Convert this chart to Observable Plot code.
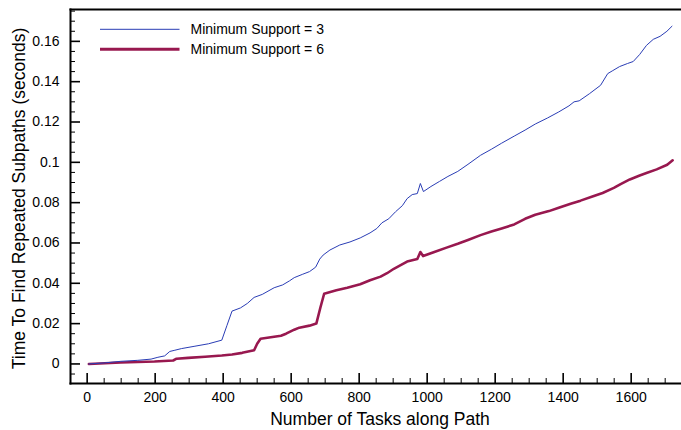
<!DOCTYPE html>
<html>
<head>
<meta charset="utf-8">
<script src="https://cdn.jsdelivr.net/npm/d3@7"></script>
<script src="https://cdn.jsdelivr.net/npm/@observablehq/plot@0.6"></script>
<style>
  html, body { margin: 0; padding: 0; background: #fff; }
  #chart { width: 681px; height: 430px; }
</style>
</head>
<body>
<div id="chart"></div>
<script>
// ---- data ----
const seriesNames = ["Minimum Support = 3", "Minimum Support = 6"];

const tasks3 = [5, 50, 99, 149, 188, 208, 228, 243, 258, 277, 317, 357, 396, 411, 426, 451, 471, 491, 515, 550, 575, 595, 609, 634, 654, 672, 684, 694, 714, 743, 773, 803, 832, 852, 867, 887, 907, 927, 941, 956, 971, 980, 989, 1011, 1036, 1061, 1090, 1120, 1157, 1189, 1219, 1256, 1288, 1318, 1354, 1387, 1417, 1432, 1447, 1477, 1510, 1531, 1546, 1566, 1589, 1606, 1625, 1645, 1665, 1685, 1705, 1720];
const time3 = [0, 0.0005, 0.0013, 0.0018, 0.0024, 0.0033, 0.0040, 0.0062, 0.0068, 0.0076, 0.0088, 0.0100, 0.0118, 0.0190, 0.0262, 0.0278, 0.0300, 0.0330, 0.0345, 0.0378, 0.0392, 0.0412, 0.0428, 0.0445, 0.0458, 0.0480, 0.0520, 0.0540, 0.0565, 0.0590, 0.0605, 0.0625, 0.0650, 0.0672, 0.0700, 0.0720, 0.0755, 0.0785, 0.0820, 0.0840, 0.0845, 0.0895, 0.0855, 0.0880, 0.0905, 0.0930, 0.0955, 0.0990, 0.1035, 0.1065, 0.1095, 0.1130, 0.1160, 0.1190, 0.1220, 0.1250, 0.1280, 0.1300, 0.1305, 0.1340, 0.1382, 0.1440, 0.1455, 0.1475, 0.1490, 0.1500, 0.1535, 0.1580, 0.1610, 0.1625, 0.1650, 0.1675];

const tasks6 = [5, 99, 198, 253, 263, 297, 347, 396, 426, 456, 491, 500, 510, 540, 570, 585, 609, 624, 654, 674, 686, 697, 733, 765, 803, 832, 863, 882, 902, 922, 941, 971, 980, 988, 1021, 1057, 1090, 1120, 1157, 1189, 1219, 1256, 1288, 1318, 1358, 1387, 1422, 1451, 1486, 1516, 1549, 1569, 1596, 1625, 1647, 1675, 1706, 1722];
const time6 = [0, 0.0007, 0.0012, 0.0017, 0.0026, 0.0030, 0.0036, 0.0042, 0.0047, 0.0055, 0.0068, 0.0100, 0.0125, 0.0132, 0.0140, 0.0150, 0.0170, 0.0180, 0.0190, 0.0200, 0.0280, 0.0348, 0.0365, 0.0378, 0.0395, 0.0415, 0.0433, 0.0450, 0.0472, 0.0490, 0.0508, 0.0520, 0.0555, 0.0535, 0.0555, 0.0577, 0.0596, 0.0615, 0.0639, 0.0657, 0.0672, 0.0692, 0.0720, 0.0740, 0.0758, 0.0775, 0.0795, 0.0810, 0.0830, 0.0848, 0.0873, 0.0892, 0.0915, 0.0935, 0.0948, 0.0965, 0.0988, 0.1010];

const xTicks = [0, 200, 400, 600, 800, 1000, 1200, 1400, 1600];
const xMinorTicks = [50, 100, 150, 250, 300, 350, 450, 500, 550, 650, 700, 750, 850, 900, 950, 1050, 1100, 1150, 1250, 1300, 1350, 1450, 1500, 1550, 1650, 1700];
const yTicks = [0, 0.02, 0.04, 0.06, 0.08, 0.1, 0.12, 0.14, 0.16];
const yMinorTicks = [-0.005, 0.005, 0.01, 0.015, 0.025, 0.03, 0.035, 0.045, 0.05, 0.055, 0.065, 0.07, 0.075, 0.085, 0.09, 0.095, 0.105, 0.11, 0.115, 0.125, 0.13, 0.135, 0.145, 0.15, 0.155, 0.165, 0.17, 0.175];

const xLabel = "Number of Tasks along Path";
const yLabel = "Time To Find Repeated Subpaths (seconds)";
const colors = ["#2a3db5", "#98184f"];
const widths = [1, 2.6];

// ---- build table ----
const rows3 = tasks3.map((t, i) => ({tasks: t, time: time3[i], series: seriesNames[0]}));
const rows6 = tasks6.map((t, i) => ({tasks: t, time: time6[i], series: seriesNames[1]}));

const font = "'Liberation Sans', Arial, Helvetica, sans-serif";

const plot = Plot.plot({
  width: 681,
  height: 430,
  marginLeft: 70,
  marginRight: 0,
  marginTop: 9,
  marginBottom: 47,
  style: {fontFamily: font, fontSize: "14px", background: "#fff", color: "#000"},
  x: {domain: [-49, 1748], label: null},
  y: {domain: [-0.0097, 0.1758], label: null},
  marks: [
    Plot.line(rows6, {x: "tasks", y: "time", stroke: colors[1], strokeWidth: widths[1]}),
    Plot.line(rows3, {x: "tasks", y: "time", stroke: colors[0], strokeWidth: widths[0]}),
    Plot.axisX({ticks: xTicks, tickSize: -10, tickPadding: 19, tickFormat: d => String(d), strokeWidth: 1.6, label: null}),
    Plot.axisX({ticks: xMinorTicks, tickSize: -5, tickFormat: () => "", strokeWidth: 1, label: null}),
    Plot.axisY({ticks: yTicks, tickSize: -10, tickPadding: 21, tickFormat: d3.format("~g"), strokeWidth: 1.6, label: null}),
    Plot.axisY({ticks: yMinorTicks, tickSize: -5, tickFormat: () => "", strokeWidth: 1, label: null}),
    Plot.frame({anchor: "top", strokeWidth: 2}),
    Plot.frame({anchor: "left", strokeWidth: 2}),
    Plot.frame({anchor: "bottom", strokeWidth: 2}),
    Plot.text([xLabel], {frameAnchor: "bottom", textAnchor: "middle", lineAnchor: "middle", dx: 4, dy: 35.5, fontSize: 17.5, text: d => d}),
    Plot.text([yLabel], {frameAnchor: "left", textAnchor: "middle", lineAnchor: "middle", rotate: -90, dx: -51.5, dy: 2, fontSize: 17.5, text: d => d})
  ]
});

// legend inside the plot area, top-left
const svg = d3.select(plot);
const leg = svg.append("g").attr("font-family", font).attr("font-size", 14).attr("text-anchor", "start");
seriesNames.forEach((name, i) => {
  const y = 29.3 + i * 20;
  leg.append("line").attr("x1", 100).attr("x2", 179.5).attr("y1", y).attr("y2", y)
    .attr("stroke", colors[i]).attr("stroke-width", widths[i] + (i === 0 ? 0 : 0.4));
  leg.append("text").attr("x", 190.5).attr("y", y).attr("dy", "0.35em").attr("fill", "#000").text(name);
});

document.getElementById("chart").appendChild(plot);
</script>
</body>
</html>
